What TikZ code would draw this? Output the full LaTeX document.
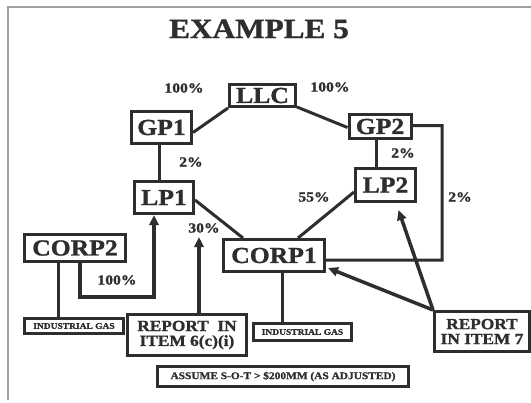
\documentclass[tikz,border=0pt]{standalone}
\usepackage{fontspec}
\setmainfont{Liberation Serif}[FakeStretch=1.12, BoldFeatures={FakeBold=1.2}]
\usetikzlibrary{arrows.meta,calc}
\definecolor{ink}{HTML}{2E2E2E}
\definecolor{frame}{HTML}{A0A0A0}
\tikzset{
  box/.style={draw=ink, line width=3bp, rectangle, inner sep=0pt, align=center, text=ink},
  lbl/.style={font=\fontsize{23}{23}\selectfont\bfseries},
  pct/.style={text=ink, inner sep=0pt, font=\fontsize{14}{14}\selectfont\bfseries},
  conn/.style={draw=ink, line width=3bp},
  arr/.style={draw=ink, line width=3.5bp, -{Triangle[length=10bp,width=9bp]}},
}
\begin{document}
\begin{tikzpicture}[x=1bp,y=-1bp]
\useasboundingbox (0,0) rectangle (531,402);
\fill[white] (0,0) rectangle (531,402);
\coordinate (fa) at (8,400);
\coordinate (fb) at (8,7);
\coordinate (fc) at (531,7);
\draw[frame, line width=1.2bp] (fa) -- (fb) -- (fc);

\node[text=ink, inner sep=0pt, font=\fontsize{28}{28}\selectfont\bfseries] (title) at (259,29) {EXAMPLE 5};

\node[box, lbl, minimum width=66bp, minimum height=22bp] (LLC) at (262.5,95.5) {LLC};
\node[box, lbl, minimum width=60bp, minimum height=32bp] (GP1) at (161.5,127.5) {GP1};
\node[box, lbl, minimum width=62bp, minimum height=24bp] (GP2) at (380,126.5) {GP2};
\node[box, lbl, minimum width=59bp, minimum height=32bp] (LP1) at (164,197.5) {LP1};
\node[box, lbl, minimum width=60bp, minimum height=33bp] (LP2) at (385.5,185) {LP2};
\node[box, lbl, minimum width=101bp, minimum height=32bp] (CORP1) at (274,255.5) {CORP1};
\node[box, lbl, minimum width=101bp, minimum height=27bp] (CORP2) at (75,248) {CORP2};
\node[box, font=\fontsize{8.5}{8.5}\selectfont\bfseries, minimum width=99bp, minimum height=15bp] (IG1) at (74,326) {INDUSTRIAL GAS};
\node[box, font=\fontsize{8.5}{8.5}\selectfont\bfseries, minimum width=98bp, minimum height=17bp] (IG2) at (302.5,332) {INDUSTRIAL GAS};
\node[box, font=\fontsize{15.5}{15}\selectfont\bfseries, minimum width=119bp, minimum height=41bp] (R6) at (187,335) {REPORT\ \ IN\\ITEM 6(c)(i)};
\node[box, font=\fontsize{15.5}{15}\selectfont\bfseries, minimum width=95bp, minimum height=40bp] (R7) at (482,331.5) {REPORT\\IN ITEM 7};
\node[box, font=\fontsize{10.2}{10}\selectfont\bfseries, minimum width=251bp, minimum height=20bp] (AS) at (283,376.5) {ASSUME S-O-T \textgreater\ \$200MM (AS ADJUSTED)};

% connectors
\draw[conn] (LLC.south west) -- ([yshift=-5bp]GP1.east);
\draw[conn] ([yshift=1bp]LLC.south east) -- ([yshift=-1bp]GP2.west);
\draw[conn] ([xshift=-2bp]GP1.south) -- ([xshift=-2bp]GP1.south |- LP1.north);
\draw[conn] ([xshift=-4bp]GP2.south) -- ([xshift=-4bp]GP2.south |- LP2.north);
\coordinate (rc) at (442,0);
\draw[conn] ([yshift=1bp]GP2.east) -| ($(rc |- CORP1.east)+(0,4.5)$) -- ([yshift=-4.5bp]CORP1.east);
\draw[conn] ([yshift=-2.5bp]LP1.east) -- ([xshift=-31bp]CORP1.north);
\draw[conn] ([yshift=-7bp]LP2.west) -- ([xshift=24bp]CORP1.north);
\draw[conn] ([xshift=-17bp]CORP2.south) -- ([xshift=-17bp]CORP2.south |- IG1.north);
\draw[conn] ([xshift=8bp]CORP1.south) -- ([xshift=8bp]CORP1.south |- IG2.north);
\draw[arr] ([xshift=5bp]CORP2.south) -- ++(0,34) -| ([xshift=-10bp]LP1.south);

\coordinate (t6) at (199,237);
\draw[arr] (R6.north -| t6) -- (t6);
\draw[arr] (R7.north west) -- ([shift={(2,-5)}]CORP1.south east);
\draw[arr] (R7.north west) -- ([shift={(13,7)}]LP2.south);

% percentages
\node[pct] (p1) at (184,88) {100\%};
\node[pct] (p2) at (330,87) {100\%};
\node[pct] (p3) at (191,162) {2\%};
\node[pct] (p4) at (403,153) {2\%};
\node[pct] (p5) at (460,197) {2\%};
\node[pct] (p6) at (314,197) {55\%};
\node[pct] (p7) at (204,228) {30\%};
\node[pct] (p8) at (117,280) {100\%};
\end{tikzpicture}
\end{document}
